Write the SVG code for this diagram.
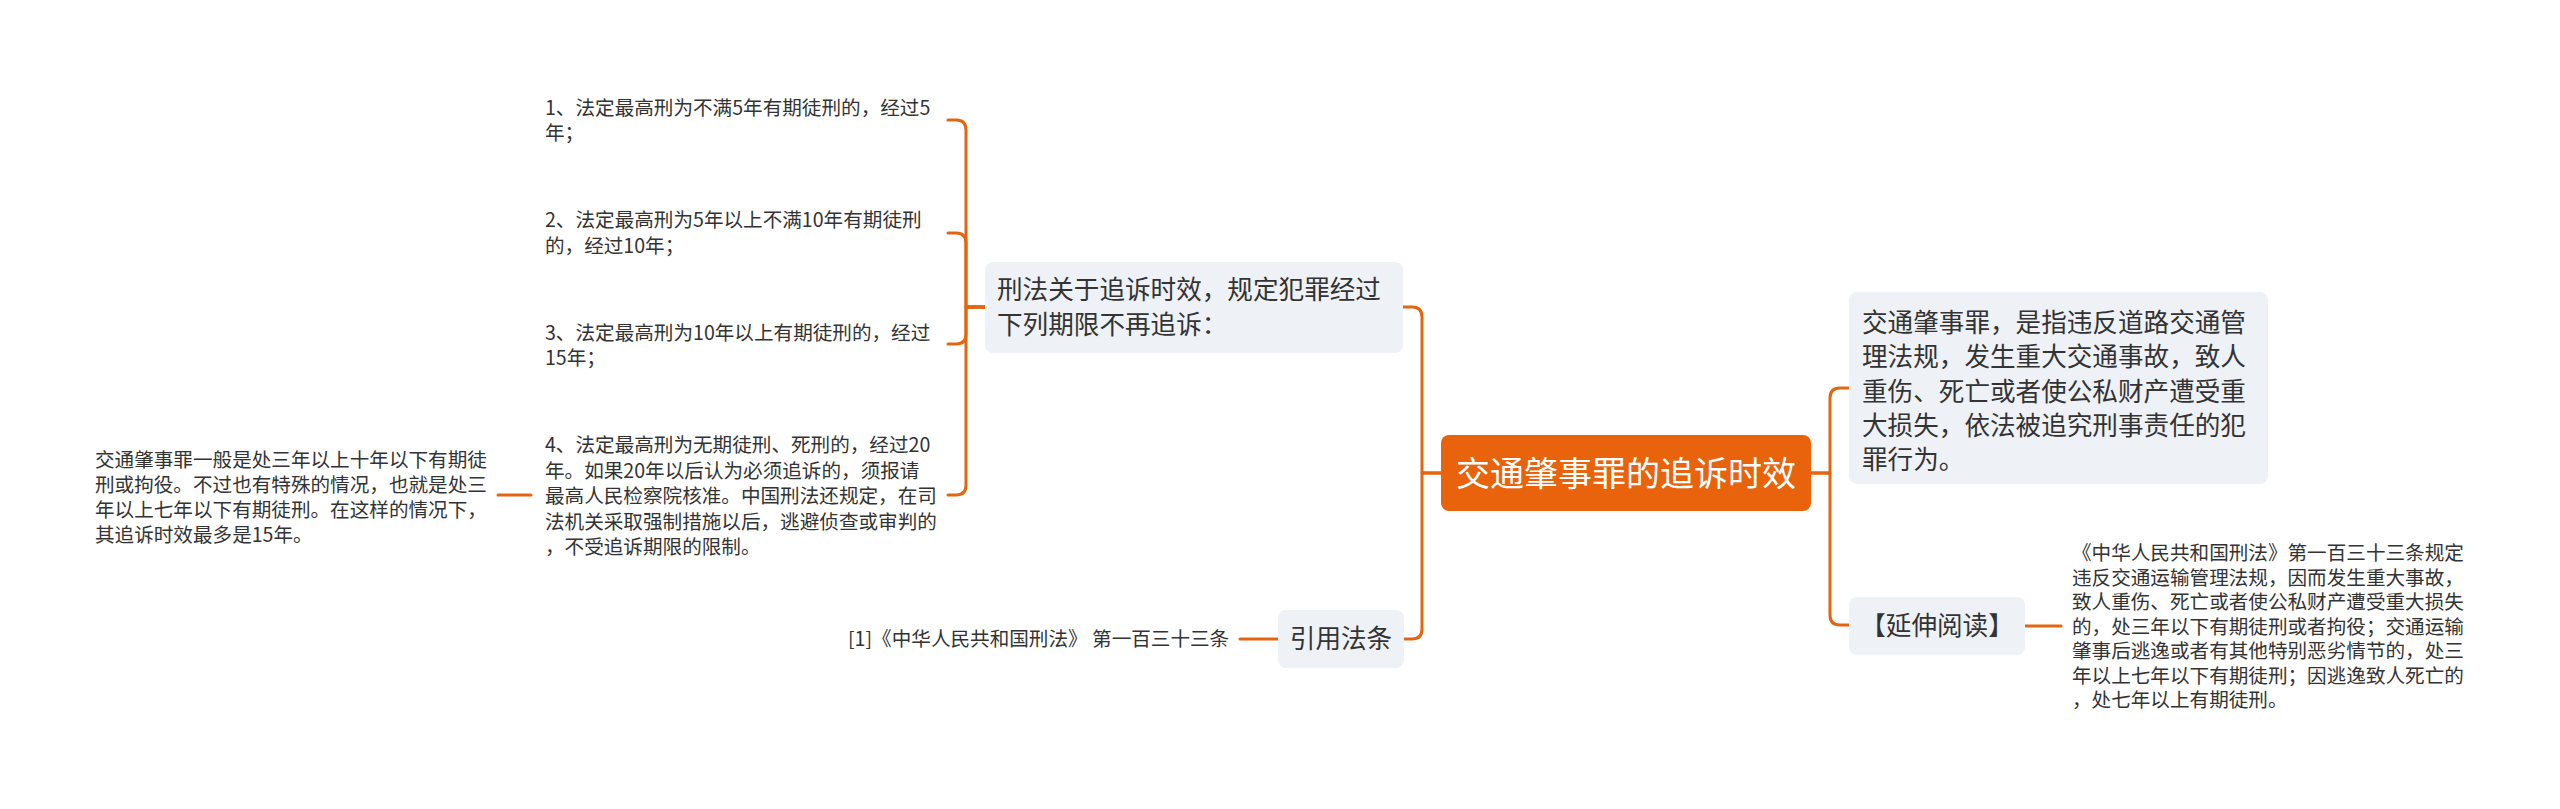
<svg xmlns="http://www.w3.org/2000/svg" width="2560" height="809" viewBox="0 0 2560 809">
<style>
.t{font-family:"Noto Sans CJK SC","Noto Sans",sans-serif;fill:#333333}
.leaf{font-size:19.6px}
.main{font-size:25.6px}
.root{font-size:34px;fill:#ffffff}
.box{fill:#EEF1F5}
.conn{fill:none;stroke:#E5650F;stroke-width:3;stroke-linecap:round;stroke-linejoin:round}
</style>
<rect width="2560" height="809" fill="#ffffff"/>
<g id="connectors">
<path class="conn" d="M1441,473 H1422 V317 Q1422,307 1412,307 H1403"/>
<path class="conn" d="M1441,473 H1422 V629 Q1422,639 1412,639 H1404"/>
<path class="conn" d="M1811,473 H1830 V398 Q1830,388 1840,388 H1849"/>
<path class="conn" d="M1811,473 H1830 V615 Q1830,625 1840,625 H1849"/>
<path class="conn" d="M985,307 H966 V130 Q966,120 956,120 H948"/>
<path class="conn" d="M985,307 H966 V243 Q966,233 956,233 H948"/>
<path class="conn" d="M985,307 H966 V334 Q966,344 956,344 H948"/>
<path class="conn" d="M985,307 H966 V485 Q966,495 956,495 H948"/>
<path class="conn" d="M531,495 H498"/>
<path class="conn" d="M1278,639 H1240"/>
<path class="conn" d="M2025,626 H2061"/>
</g>
<g id="root">
<rect x="1441" y="435" width="370" height="76" rx="8" fill="#E8630C"/>
<text class="t root" x="1626" y="486" text-anchor="middle">交通肇事罪的追诉时效</text>
</g>
<g id="definition">
<rect class="box" x="1849" y="292" width="419" height="192" rx="8"/>
<text class="t main" x="1862" y="332">交通肇事罪，是指违反道路交通管</text>
<text class="t main" x="1862" y="366">理法规，发生重大交通事故，致人</text>
<text class="t main" x="1862" y="400.5">重伤、死亡或者使公私财产遭受重</text>
<text class="t main" x="1862" y="435">大损失，依法被追究刑事责任的犯</text>
<text class="t main" x="1862" y="469">罪行为。</text>
</g>
<g id="extended">
<rect class="box" x="1849" y="597" width="176" height="58" rx="8"/>
<text class="t main" x="1937" y="635" text-anchor="middle">【延伸阅读】</text>
</g>
<g id="extended-text">
<text class="t leaf" x="2072" y="560">《中华人民共和国刑法》第一百三十三条规定</text>
<text class="t leaf" x="2072" y="584.5">违反交通运输管理法规，因而发生重大事故，</text>
<text class="t leaf" x="2072" y="609">致人重伤、死亡或者使公私财产遭受重大损失</text>
<text class="t leaf" x="2072" y="633.5">的，处三年以下有期徒刑或者拘役；交通运输</text>
<text class="t leaf" x="2072" y="658">肇事后逃逸或者有其他特别恶劣情节的，处三</text>
<text class="t leaf" x="2072" y="682.5">年以上七年以下有期徒刑；因逃逸致人死亡的</text>
<text class="t leaf" x="2072" y="707">，处七年以上有期徒刑。</text>
</g>
<g id="limitation">
<rect class="box" x="985" y="262" width="418" height="91" rx="8"/>
<text class="t main" x="997" y="299">刑法关于追诉时效，规定犯罪经过</text>
<text class="t main" x="997" y="334">下列期限不再追诉：</text>
</g>
<g id="citation">
<rect class="box" x="1278" y="610" width="126" height="58" rx="8"/>
<text class="t main" x="1341" y="648" text-anchor="middle">引用法条</text>
</g>
<g id="citation-text">
<text class="t leaf" x="848" y="646">[1]《中华人民共和国刑法》 第一百三十三条</text>
</g>
<g id="item1">
<text class="t leaf" x="545" y="115">1、法定最高刑为不满5年有期徒刑的，经过5</text>
<text class="t leaf" x="545" y="140">年；</text>
</g>
<g id="item2">
<text class="t leaf" x="545" y="227">2、法定最高刑为5年以上不满10年有期徒刑</text>
<text class="t leaf" x="545" y="253">的，经过10年；</text>
</g>
<g id="item3">
<text class="t leaf" x="545" y="340">3、法定最高刑为10年以上有期徒刑的，经过</text>
<text class="t leaf" x="545" y="365">15年；</text>
</g>
<g id="item4">
<text class="t leaf" x="545" y="452">4、法定最高刑为无期徒刑、死刑的，经过20</text>
<text class="t leaf" x="545" y="478">年。如果20年以后认为必须追诉的，须报请</text>
<text class="t leaf" x="545" y="503">最高人民检察院核准。中国刑法还规定，在司</text>
<text class="t leaf" x="545" y="529">法机关采取强制措施以后，逃避侦查或审判的</text>
<text class="t leaf" x="545" y="554">，不受追诉期限的限制。</text>
</g>
<g id="note">
<text class="t leaf" x="95" y="467">交通肇事罪一般是处三年以上十年以下有期徒</text>
<text class="t leaf" x="95" y="492">刑或拘役。不过也有特殊的情况，也就是处三</text>
<text class="t leaf" x="95" y="517">年以上七年以下有期徒刑。在这样的情况下，</text>
<text class="t leaf" x="95" y="542">其追诉时效最多是15年。</text>
</g>
</svg>
